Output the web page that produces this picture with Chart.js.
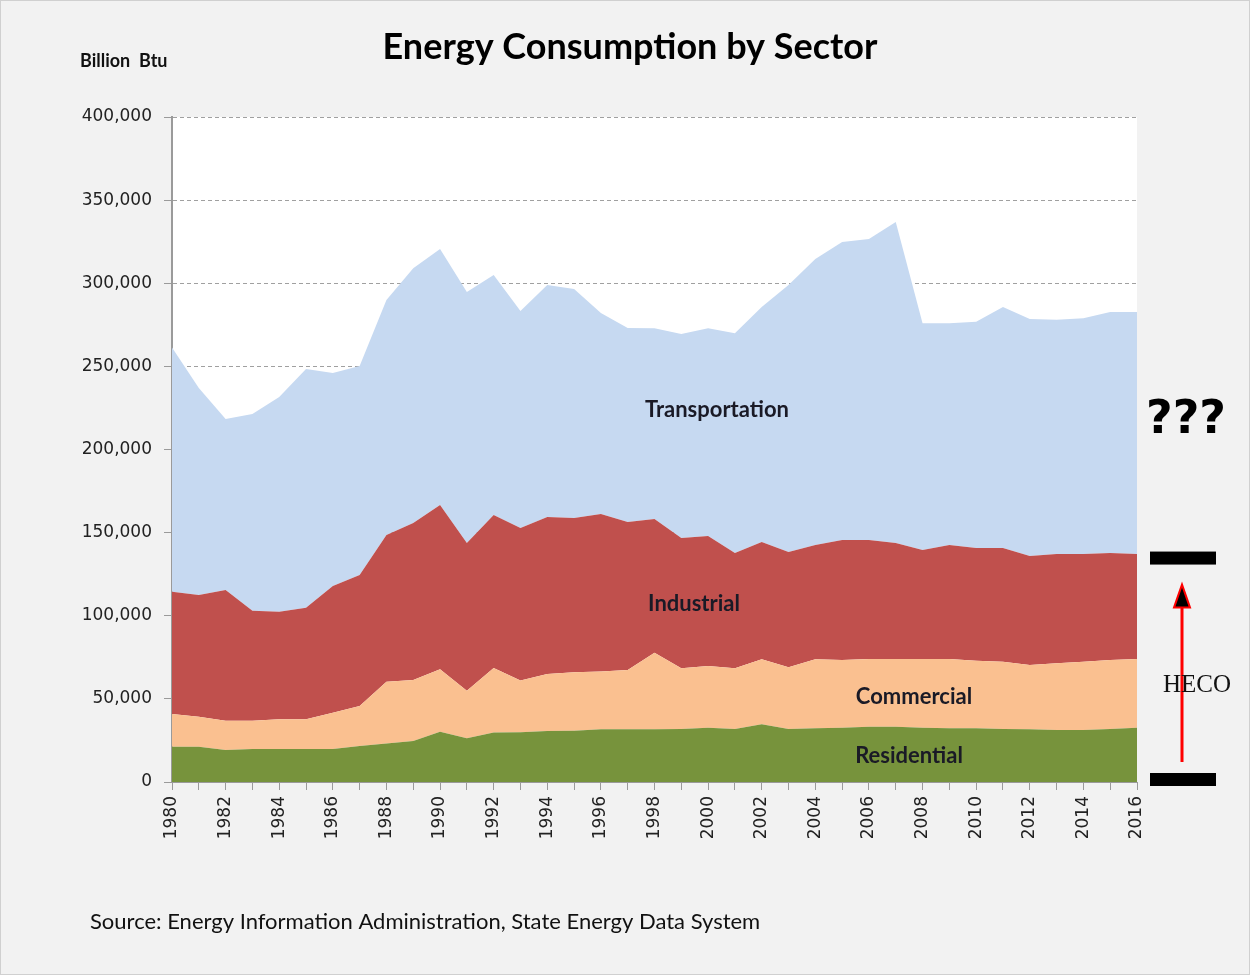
<!DOCTYPE html>
<html>
<head>
<meta charset="utf-8">
<script src="https://cdn.jsdelivr.net/npm/chart.js@4"></script>
<style>
  html, body { margin: 0; padding: 0; background: #f2f2f2; }
  #wrap { position: relative; width: 1250px; height: 975px; }
</style>
</head>
<body>
<div id="wrap"><canvas id="energyChart" width="1250" height="975"></canvas></div>
<script>
// années 1980 -> 2016
const years = ['1980','1981','1982','1983','1984','1985','1986','1987','1988','1989',
  '1990','1991','1992','1993','1994','1995','1996','1997','1998','1999',
  '2000','2001','2002','2003','2004','2005','2006','2007','2008','2009',
  '2010','2011','2012','2013','2014','2015','2016'];

// Billion Btu, valeurs (empilées)
const residential = [21200,21200,19200,19800,19800,19800,19800,21600,23200,24600,
  30300,26300,29700,29900,30700,30900,31700,31700,31700,31900,
  32700,31900,34700,31900,32300,32700,33300,33300,32700,32300,
  32300,31900,31700,31300,31300,31900,32700];
const commercial = [19700,18100,17700,17100,17900,17900,21900,24100,37100,36800,
  37500,28600,38900,31100,34300,35100,34700,35700,46100,36500,
  37100,36500,39100,37100,41500,40700,40700,40700,41300,41700,
  40700,40500,38700,40100,41100,41500,41300];
const industrial = [73600,73200,78600,66100,64700,67100,76200,78800,88300,94400,
  98800,88900,92000,91800,94400,92800,94800,89000,80400,78400,
  78200,69300,70600,69300,68800,72200,71600,69800,65600,68600,
  67700,68300,65500,65700,64700,64300,63100];
const transportation = [146800,124500,102800,118300,129200,143600,128100,125700,141400,153200,
  154000,151000,144400,130500,139600,137700,120900,116700,114800,122700,
  125000,132300,141300,160700,172000,179200,181000,193000,136400,133400,
  136200,145000,142600,140900,141900,145000,145600];

const yTicks = [0, 50000, 100000, 150000, 200000, 250000, 300000, 350000, 400000];
const hecoRange = [0, 135000];

// fond blanc de la zone de tracé + annotations
const decorations = {
  id: 'decorations',
  beforeDraw(chart) {
    const { ctx, chartArea: a } = chart;
    ctx.save();
    ctx.fillStyle = '#f2f2f2';
    ctx.fillRect(0, 0, chart.width, chart.height);
    ctx.strokeStyle = '#d0d0d0';
    ctx.strokeRect(0.5, 0.5, chart.width - 1, chart.height - 1);
    ctx.fillStyle = '#ffffff';
    ctx.fillRect(a.left, a.top, a.right - a.left, a.bottom - a.top);
    ctx.restore();
  },
  afterDraw(chart) {
    const { ctx } = chart;
    const y = chart.scales.y;
    ctx.save();
    ctx.fillStyle = '#000';
    ctx.textBaseline = 'middle';
    ctx.textAlign = 'center';
    ctx.font = 'bold 36px Lato';
    ctx.fillText('Energy Consumption by Sector', 630, 47);

    ctx.textAlign = 'left';
    ctx.font = 'bold 18px Lato';
    ctx.fillStyle = '#111';
    ctx.fillText('Billion  Btu', 80, 61);

    ctx.font = '22px Lato';
    ctx.fillText('Source: Energy Information Administration, State Energy Data System', 90, 922);

    // étiquettes des séries
    ctx.textAlign = 'center';
    ctx.font = 'bold 22px Lato';
    ctx.fillStyle = '#1a1a26';
    ctx.fillText('Transportation', 717, 410);
    ctx.fillText('Industrial', 694, 604);
    ctx.fillText('Commercial', 914, 697);
    ctx.fillText('Residential', 909, 756);

    // ??? et HECO
    ctx.fillStyle = '#000';
    ctx.font = 'bold 46px "DejaVu Sans"';
    ctx.fillText('???', 1186, 421);

    const yTop = y.getPixelForValue(hecoRange[1]);
    const yBot = y.getPixelForValue(hecoRange[0]);
    ctx.fillRect(1150, yTop - 6, 66, 13);
    ctx.fillRect(1150, yBot - 9, 66, 13);

    ctx.strokeStyle = '#ff0000';
    ctx.lineWidth = 3;
    ctx.beginPath();
    ctx.moveTo(1182, yBot - 20);
    ctx.lineTo(1182, yTop + 48);
    ctx.stroke();
    ctx.beginPath();
    ctx.moveTo(1182, yTop + 27);
    ctx.lineTo(1174, yTop + 50);
    ctx.lineTo(1190, yTop + 50);
    ctx.closePath();
    ctx.fillStyle = '#000';
    ctx.fill();
    ctx.lineWidth = 2;
    ctx.stroke();

    ctx.fillStyle = '#111';
    ctx.font = '25px "Liberation Serif"';
    ctx.fillText('HECO', 1197, 685);
    ctx.restore();
  }
};

const ctx = document.getElementById('energyChart').getContext('2d');
new Chart(ctx, {
  type: 'line',
  data: {
    labels: years,
    datasets: [
      { label: 'Residential', data: residential, backgroundColor: '#77933c', fill: 'origin' },
      { label: 'Commercial', data: commercial, backgroundColor: '#fac090', fill: '-1' },
      { label: 'Industrial', data: industrial, backgroundColor: '#c0504d', fill: '-1' },
      { label: 'Transportation', data: transportation, backgroundColor: '#c6d9f1', fill: '-1' }
    ]
  },
  options: {
    responsive: false,
    animation: false,
    elements: {
      point: { radius: 0 },
      line: { borderWidth: 0, tension: 0 }
    },
    layout: { padding: { left: 0, right: 113, top: 117, bottom: 0 } },
    plugins: {
      legend: { display: false },
      tooltip: { enabled: false }
    },
    scales: {
      x: {
        offset: false,
        afterFit: s => { s.height = 193; },
        grid: { display: true, drawOnChartArea: false, drawTicks: true, tickLength: 8, color: '#9a9a9a' },
        border: { color: '#9a9a9a', width: 1 },
        ticks: {
          autoSkip: false,
          maxRotation: 90,
          minRotation: 90,
          padding: 6,
          color: '#222',
          font: { family: 'DejaVu Sans', size: 17 },
          callback: function(val, i) { return i % 2 === 0 ? this.getLabelForValue(val) : ''; }
        }
      },
      y: {
        stacked: true,
        min: 0,
        max: 400000,
        afterFit: s => { s.width = 172; },
        afterBuildTicks: s => { s.ticks = yTicks.map(v => ({ value: v })); },
        grid: { color: '#a0a0a0', tickColor: '#9a9a9a', tickLength: 8, drawTicks: true },
        border: { color: '#9a9a9a', width: 2, dash: [4, 3] },
        ticks: {
          padding: 12,
          color: '#222',
          font: { family: 'DejaVu Sans', size: 17 },
          callback: v => v.toLocaleString('en-US')
        }
      }
    }
  },
  plugins: [decorations]
});
</script>
</body>
</html>
